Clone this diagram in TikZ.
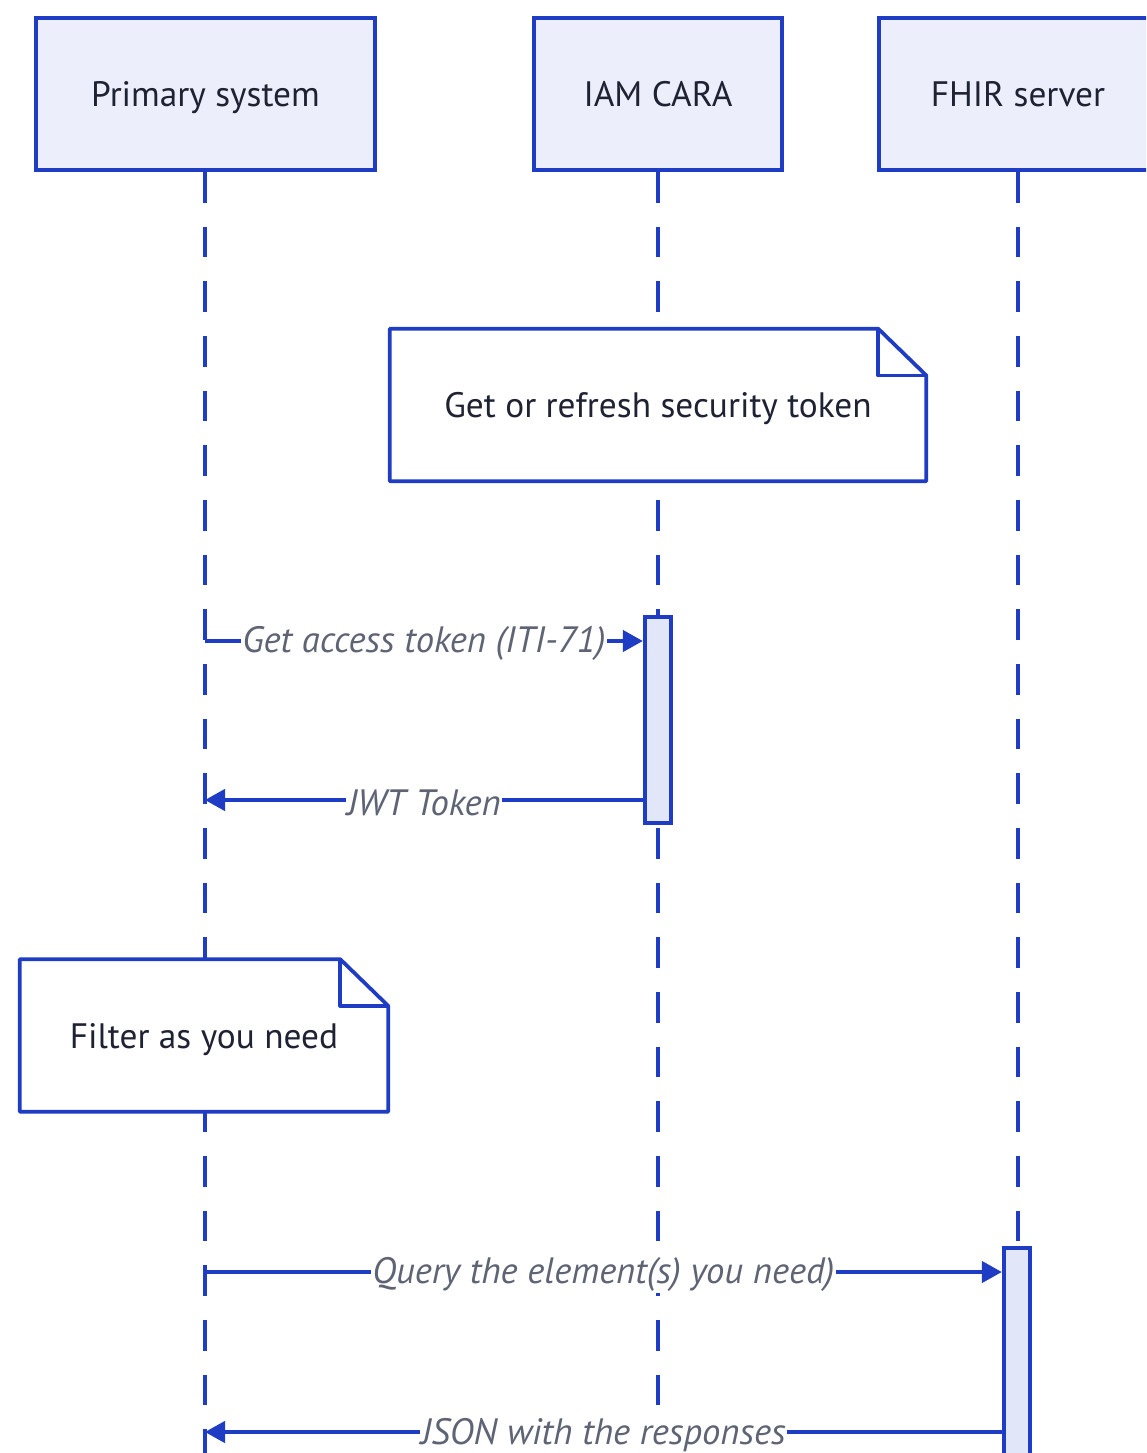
\documentclass[tikz,border=0pt]{standalone}
\usepackage{fontspec}
\setmainfont{PT Sans}
\usetikzlibrary{arrows.meta}
\definecolor{lineblue}{HTML}{1F3CC4}
\definecolor{boxfill}{HTML}{ECEFFB}
\definecolor{actfill}{HTML}{E1E6F9}
\definecolor{txtdark}{HTML}{1F2233}
\definecolor{txtgrey}{HTML}{5F6475}
\tikzset{
  actor/.style={draw=lineblue, line width=2.8pt, fill=boxfill, text=txtdark,
    font=\fontsize{26.5}{30}\selectfont, minimum height=114pt, inner sep=0pt,
    text height=20pt, text depth=1pt},
  lifeline/.style={draw=lineblue, line width=2.8pt, dash pattern=on 23pt off 18pt},
  notebody/.style={text=txtdark, font=\fontsize{26.5}{30}\selectfont, inner sep=0pt, minimum height=114pt,
    text height=20pt, text depth=1pt},
  noteline/.style={draw=lineblue, line width=2.8pt, fill=white, line join=round},
  activation/.style={draw=lineblue, line width=2.8pt, fill=actfill, inner sep=0pt, minimum width=20pt},
  msg/.style={draw=lineblue, line width=2.6pt, -{Triangle[length=15pt,width=16pt]}},
  msglabel/.style={fill=white, text=txtgrey, font=\fontsize{27.5}{30}\selectfont\itshape, inner sep=1pt,
    yshift=-2pt},
}
\begin{document}
\begin{tikzpicture}[x=0.75pt, y=-0.75pt]
\clip (0,0) rectangle (1146,1453);
\fill[white] (0,0) rectangle (1146,1453);
% actors
\node[actor, minimum width=254.25pt] (ps) at (205.5,94) {Primary system};
\node[actor, minimum width=186pt] (iam) at (658,94) {IAM CARA};
\node[actor, minimum width=208.5pt] (fhir) at (1018,94) {FHIR server};
% lifeline ends
\coordinate (psend) at (205,1460);
\coordinate (iamend) at (658,1460);
\coordinate (fhirend) at (1018,1460);
\draw[lifeline] (ps.south -| psend) -- (psend);
\draw[lifeline] (iam.south) -- (iamend);
\draw[lifeline] (fhir.south -| fhirend) -- (fhirend);
% note 1
\node[notebody, minimum width=402pt] (n1) at (658,405) {Get or refresh security token};
\draw[noteline] (n1.south west) -- (n1.north west) -- ([xshift=-36pt]n1.north east)
  -- ([yshift=-35pt]n1.north east) -- (n1.south east) -- cycle;
\draw[noteline, fill=none] ([xshift=-36pt]n1.north east) -- ([xshift=-36pt,yshift=-35pt]n1.north east)
  -- ([yshift=-35pt]n1.north east);
\node[notebody, minimum width=402pt] at (n1) {Get or refresh security token};
% note 2
\node[notebody, minimum width=276pt] (n2) at (204,1035.5) {Filter as you need};
\draw[noteline] (n2.south west) -- (n2.north west) -- ([xshift=-36pt]n2.north east)
  -- ([yshift=-35pt]n2.north east) -- (n2.south east) -- cycle;
\draw[noteline, fill=none] ([xshift=-36pt]n2.north east) -- ([xshift=-36pt,yshift=-35pt]n2.north east)
  -- ([yshift=-35pt]n2.north east);
\node[notebody, minimum width=276pt] at (n2) {Filter as you need};
% activations
\node[activation, minimum height=154.5pt] (a1) at (658,720) {};
\node[activation, minimum height=165pt] (a2) at (1017,1358) {};
% messages
\coordinate (m1) at (205,641);
\coordinate (m2) at (205,800);
\coordinate (m3) at (205,1272);
\coordinate (m4) at (205,1432);
\draw[msg] (m1) -- (m1 -| a1.west) node[msglabel, midway] {Get access token (ITI-71)};
\draw[msg] (m2 -| a1.west) -- (m2) node[msglabel, midway] {JWT Token};
\draw[msg] (m3) -- (m3 -| a2.west) node[msglabel, midway] {Query the element(s) you need)};
\draw[msg] (m4 -| a2.west) -- (m4) node[msglabel, midway] {JSON with the responses};
\end{tikzpicture}
\end{document}
